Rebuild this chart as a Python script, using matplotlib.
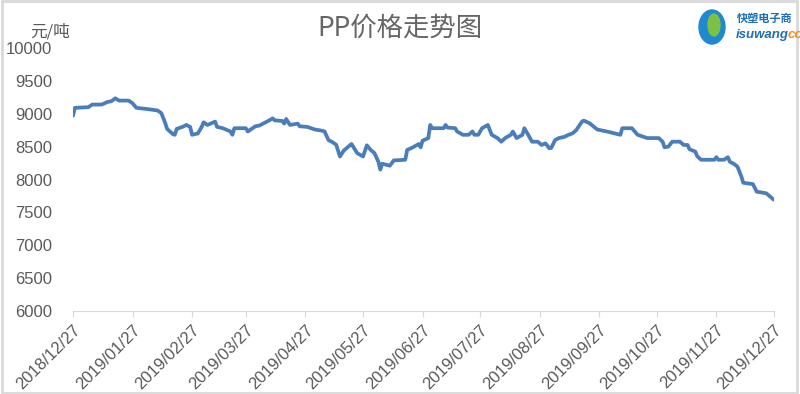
import pandas as pd
import matplotlib.pyplot as plt
import matplotlib.dates as mdates
from matplotlib.patches import Rectangle, Ellipse

plt.rcParams['font.family'] = ['Liberation Sans', 'Noto Sans CJK SC', 'DejaVu Sans']

# PP price (yuan/ton)
dates = [
    "2018-12-27", "2018-12-28", "2019-01-04", "2019-01-06", "2019-01-11", "2019-01-14",
    "2019-01-16", "2019-01-18", "2019-01-20", "2019-01-25", "2019-01-27", "2019-01-29",
    "2019-02-04", "2019-02-09", "2019-02-11", "2019-02-13", "2019-02-14", "2019-02-17",
    "2019-02-18", "2019-02-19", "2019-02-22", "2019-02-24", "2019-02-26", "2019-02-27",
    "2019-03-02", "2019-03-04", "2019-03-05", "2019-03-07", "2019-03-11", "2019-03-12",
    "2019-03-15", "2019-03-19", "2019-03-20", "2019-03-21", "2019-03-27", "2019-03-28",
    "2019-04-01", "2019-04-03", "2019-04-07", "2019-04-10", "2019-04-11", "2019-04-15",
    "2019-04-16", "2019-04-17", "2019-04-19", "2019-04-23", "2019-04-24", "2019-04-28",
    "2019-05-02", "2019-05-06", "2019-05-07", "2019-05-09", "2019-05-11", "2019-05-13",
    "2019-05-15", "2019-05-17", "2019-05-19", "2019-05-21", "2019-05-24", "2019-05-27",
    "2019-05-29", "2019-05-31", "2019-06-02", "2019-06-04", "2019-06-05", "2019-06-06",
    "2019-06-10", "2019-06-12", "2019-06-18", "2019-06-19", "2019-06-22", "2019-06-25",
    "2019-06-26", "2019-06-27", "2019-06-30", "2019-07-01", "2019-07-02", "2019-07-08",
    "2019-07-09", "2019-07-10", "2019-07-14", "2019-07-15", "2019-07-18", "2019-07-21",
    "2019-07-23", "2019-07-24", "2019-07-26", "2019-07-28", "2019-07-31", "2019-08-02",
    "2019-08-05", "2019-08-07", "2019-08-09", "2019-08-12", "2019-08-13", "2019-08-15",
    "2019-08-18", "2019-08-19", "2019-08-21", "2019-08-23", "2019-08-26", "2019-08-28",
    "2019-08-30", "2019-09-01", "2019-09-02", "2019-09-04", "2019-09-06", "2019-09-09",
    "2019-09-11", "2019-09-13", "2019-09-15", "2019-09-18", "2019-09-19", "2019-09-22",
    "2019-09-26", "2019-10-01", "2019-10-08", "2019-10-09", "2019-10-14", "2019-10-17",
    "2019-10-22", "2019-10-28", "2019-10-30", "2019-10-31", "2019-11-02", "2019-11-04",
    "2019-11-08", "2019-11-10", "2019-11-12", "2019-11-13", "2019-11-16", "2019-11-17",
    "2019-11-19", "2019-11-26", "2019-11-27", "2019-11-28", "2019-12-01", "2019-12-03",
    "2019-12-04", "2019-12-06", "2019-12-08", "2019-12-10", "2019-12-11", "2019-12-16",
    "2019-12-18", "2019-12-23", "2019-12-27",
]
prices = [
    8970, 9090, 9100, 9140, 9140, 9180,
    9190, 9235, 9200, 9200, 9160, 9090,
    9070, 9050, 9010, 8860, 8770, 8690,
    8680, 8770, 8800, 8830, 8800, 8680,
    8700, 8800, 8870, 8830, 8880, 8800,
    8780, 8730, 8680, 8780, 8780, 8730,
    8810, 8820, 8880, 8930, 8900, 8890,
    8850, 8920, 8830, 8850, 8810, 8800,
    8760, 8740, 8730, 8600, 8570, 8530,
    8350, 8440, 8490, 8540, 8400, 8350,
    8520, 8450, 8400, 8270, 8150, 8240,
    8210, 8290, 8300, 8450, 8490, 8540,
    8490, 8590, 8630, 8830, 8780, 8780,
    8830, 8790, 8780, 8730, 8680, 8680,
    8730, 8680, 8680, 8780, 8830, 8680,
    8630, 8575, 8630, 8680, 8730, 8630,
    8680, 8780, 8680, 8575, 8575, 8525,
    8550, 8475, 8480, 8600, 8630, 8650,
    8680, 8700, 8750, 8880, 8895, 8855,
    8760, 8730, 8680, 8780, 8780, 8680,
    8630, 8630, 8575, 8490, 8500, 8575,
    8575, 8525, 8525, 8460, 8425, 8355,
    8300, 8300, 8340, 8300, 8300, 8340,
    8270, 8240, 8195, 8045, 7950, 7930,
    7815, 7790, 7690,
]
tick_dates = pd.date_range("2018-12-27", periods=13, freq=pd.DateOffset(months=1))
y_ticks = list(range(6000, 10001, 500))

gray = "#595959"
fig = plt.figure(figsize=(8, 3.94), dpi=100)
ax = fig.add_axes([73 / 800, 1 - 311 / 394, 701 / 800, 263 / 394])

ax.plot(pd.to_datetime(dates), prices, color="#4A7EBB", linewidth=2.7,
        solid_joinstyle="round", solid_capstyle="round")

ax.set_xlim(pd.Timestamp("2018-12-27"), pd.Timestamp("2019-12-27"))
ax.set_ylim(6000, 10000)
ax.set_yticks(y_ticks)
ax.set_xticks(tick_dates)
ax.xaxis.set_major_formatter(mdates.DateFormatter("%Y/%m/%d"))

for s in ["top", "right", "left"]:
    ax.spines[s].set_visible(False)
ax.spines["bottom"].set_color("#d9d9d9")
ax.tick_params(axis="y", length=0, pad=15, labelsize=12, labelcolor=gray)
ax.tick_params(axis="x", length=4, color="#d9d9d9", pad=4, labelsize=12, labelcolor=gray)
plt.setp(ax.get_xticklabels(), rotation=45, ha="right", va="top", rotation_mode="anchor")

fig.text(0.5, 1 - 28 / 394, "PP价格走势图", ha="center", va="center",
         fontsize=19, color="#666666", family=["Noto Sans CJK SC", "DejaVu Sans"])
fig.text(50 / 800, 1 - 32 / 394, "元/吨", ha="center", va="center",
         fontsize=12, color=gray, family=["Noto Sans CJK SC", "DejaVu Sans"])

# logo (rough)
fig.patches.append(Ellipse((712 / 800, 1 - 27 / 394), 26 / 800, 34 / 394,
                           transform=fig.transFigure, color="#1e88d0"))
fig.patches.append(Ellipse((714 / 800, 1 - 25 / 394), 12 / 800, 22 / 394,
                           transform=fig.transFigure, color="#7cc242"))
fig.text(737 / 800, 1 - 18 / 394, "快塑电子商", ha="left", va="center", fontsize=8,
         color="#1e6fb8", weight="bold", family=["Noto Sans CJK SC", "DejaVu Sans"])
fig.text(736 / 800, 1 - 35 / 394, "isuwang", ha="left", va="center", fontsize=9.5,
         color="#1e6fb8", weight="bold", style="italic")
fig.text(788 / 800, 1 - 35 / 394, "co", ha="left", va="center", fontsize=9.5,
         color="#f08c1a", weight="bold", style="italic")

# figure border
fig.patches.append(Rectangle((0.002, 0.003), 0.994, 0.994, transform=fig.transFigure,
                             fill=False, edgecolor="#d9d9d9", linewidth=2))

fig.savefig("out.png", dpi=100)
